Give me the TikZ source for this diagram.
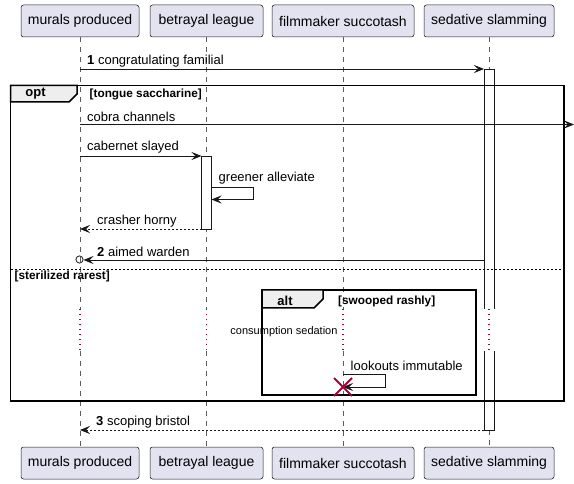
\documentclass[tikz,border=0pt]{standalone}
\usepackage{fontspec}
\setmainfont{Liberation Sans}
\usetikzlibrary{arrows.meta}
\definecolor{partfill}{HTML}{E2E2F0}
\definecolor{partline}{HTML}{181818}
\definecolor{tabfill}{HTML}{EEEEEE}
\definecolor{delayred}{HTML}{A80036}
\begin{document}
\begin{tikzpicture}[x=1pt,y=-1pt,
  part/.style={draw=partline, fill=partfill, rounded corners=2.5pt, minimum height=32pt, inner sep=0pt, font=\fontsize{14}{16}\selectfont, line width=0.5pt},
  life/.style={draw=partline!70, dash pattern=on 5pt off 5pt, line width=0.6pt},
  msg/.style={draw=partline, line width=0.8pt, -{Stealth[length=10pt,width=8pt,inset=4pt]}},
  ret/.style={msg, dash pattern=on 2pt off 2pt},
  lbl/.style={anchor=west, inner sep=0pt, font=\fontsize{13}{15}\selectfont},
  cond/.style={anchor=west, inner sep=0pt, font=\bfseries\fontsize{11.8}{14}\selectfont},
  tabtxt/.style={inner sep=0pt, font=\bfseries\fontsize{13}{15}\selectfont},
  frm/.style={draw=black, line width=1.5pt},
  tabshape/.style={fill=tabfill, draw=black, line width=1.5pt},
  act/.style={draw=partline, line width=0.8pt},
  delay/.style={draw=delayred, line width=1.1pt, dash pattern=on 1.1pt off 3.9pt}
]
\useasboundingbox (0,0) rectangle (574,484);

% participants
\node[part, minimum width=118pt] (mt) at (80,21) {murals produced};
\node[part, minimum width=113pt] (bt) at (206.5,21) {betrayal league};
\node[part, minimum width=142pt] (ft) at (343,21) {filmmaker succotash};
\node[part, minimum width=130pt] (st) at (489,21) {sedative slamming};
\node[part, minimum width=118pt] (mb) at (80,463) {murals produced};
\node[part, minimum width=113pt] (bb) at (206.5,463) {betrayal league};
\node[part, minimum width=142pt] (fb) at (343,463) {filmmaker succotash};
\node[part, minimum width=130pt] (sb) at (489,463) {sedative slamming};

% delay coordinates
\foreach \n/\x in {m/80,b/206.5,f/343,s/489}{
  \coordinate (\n d1) at (\x,309);
  \coordinate (\n d2) at (\x,351);
}
\coordinate (sa1) at (489,69);
\coordinate (sa2) at (489,430);

% lifelines
\foreach \n in {m,b,f}{
  \draw[life] (\n t.south) -- (\n d1);
  \draw[delay] (\n d1) -- (\n d2);
  \draw[life] (\n d2) -- (\n b.north);
}
\draw[life] (st.south) -- (sa1);
\draw[life] (sa2) -- (sb.north);

% activation on sedative slamming (broken by delay)
\fill[white] (484,69) rectangle (494,309);
\fill[white] (484,351) rectangle (494,430);
\draw[act] (484,309) -- (484,69) -- (494,69) -- (494,309);
\draw[act] (484,351) -- (484,430) -- (494,430) -- (494,351);
\draw[delay] (sd1) -- (sd2);

% activation on betrayal league
\draw[act, fill=white] (201.5,156) rectangle (211.5,229);

% message 1
\coordinate (m1a) at (80,69);
\coordinate (m1b) at (484,69);
\draw[msg] (m1a) -- (m1b);
\node[lbl] (l1) at (87,61) {\textbf{1} congratulating familial};

% opt frame
\draw[frm] (10.5,85.5) rectangle (564,401);
\draw[tabshape] (10.5,85.5) -- (77,85.5) -- (77,94) -- (69,102) -- (10.5,102) -- cycle;
\node[tabtxt] (optl) at (35.5,94) {opt};
\node[cond] (optc) at (89.5,94.5) {[tongue saccharine]};

% cobra channels
\coordinate (c1a) at (80,124.5);
\coordinate (c1b) at (574,124.5);
\draw[msg] (c1a) -- (c1b);
\node[lbl] (l2) at (87,117) {cobra channels};

% cabernet slayed
\coordinate (c2a) at (80,156);
\coordinate (c2b) at (201.5,156);
\draw[msg] (c2a) -- (c2b);
\node[lbl] (l3) at (87,147.5) {cabernet slayed};

% greener alleviate (self)
\coordinate (g1) at (211.5,187);
\coordinate (g2) at (211.5,199.5);
\draw[msg] (g1) -- (253,187) -- (253,199.5) -- (g2);
\node[lbl] (l4) at (218.5,178.5) {greener alleviate};

% crasher horny
\coordinate (h1) at (201.5,229);
\coordinate (h2) at (80,229);
\draw[ret] (h1) -- (h2);
\node[lbl] (l5) at (97,221) {crasher horny};

% aimed warden (lost-circle)
\coordinate (w1) at (484,260);
\coordinate (w2) at (83.5,260);
\draw[msg] (w1) -- (w2);
\draw[partline, line width=0.8pt] (79.5,259.5) circle (3.6);
\node[lbl] (l6) at (97,251.5) {\textbf{2} aimed warden};

% separator
\draw[black, line width=0.8pt, dash pattern=on 2pt off 2pt] (10.5,269.5) -- (564,269.5);
\node[cond] (sep) at (14.5,276.5) {[sterilized rarest]};

% alt frame
\draw[frm] (262,290) rectangle (476,395);
\draw[tabshape] (262,290) -- (323,290) -- (323,299) -- (314,308) -- (262,308) -- cycle;
\node[tabtxt] (altl) at (285,300.5) {alt};
\node[cond] (altc) at (338,301) {[swooped rashly]};

% delay text
\node[inner sep=0pt, font=\fontsize{11}{13}\selectfont] (dl) at (284,332) {consumption sedation};

% lookouts immutable (self, destroy)
\coordinate (k1) at (343,374);
\coordinate (k2) at (343,387);
\draw[msg] (k1) -- (385,374) -- (385,387) -- (k2);
\node[lbl] (l7) at (350.5,365.5) {lookouts immutable};
\draw[delayred, line width=2pt] (334,378) -- (352,396) (334,396) -- (352,378);

% scoping bristol
\coordinate (s1) at (484,430);
\coordinate (s2) at (80,430);
\draw[ret] (s1) -- (s2);
\node[lbl] (l8) at (96,422) {\textbf{3} scoping bristol};
\end{tikzpicture}
\end{document}
